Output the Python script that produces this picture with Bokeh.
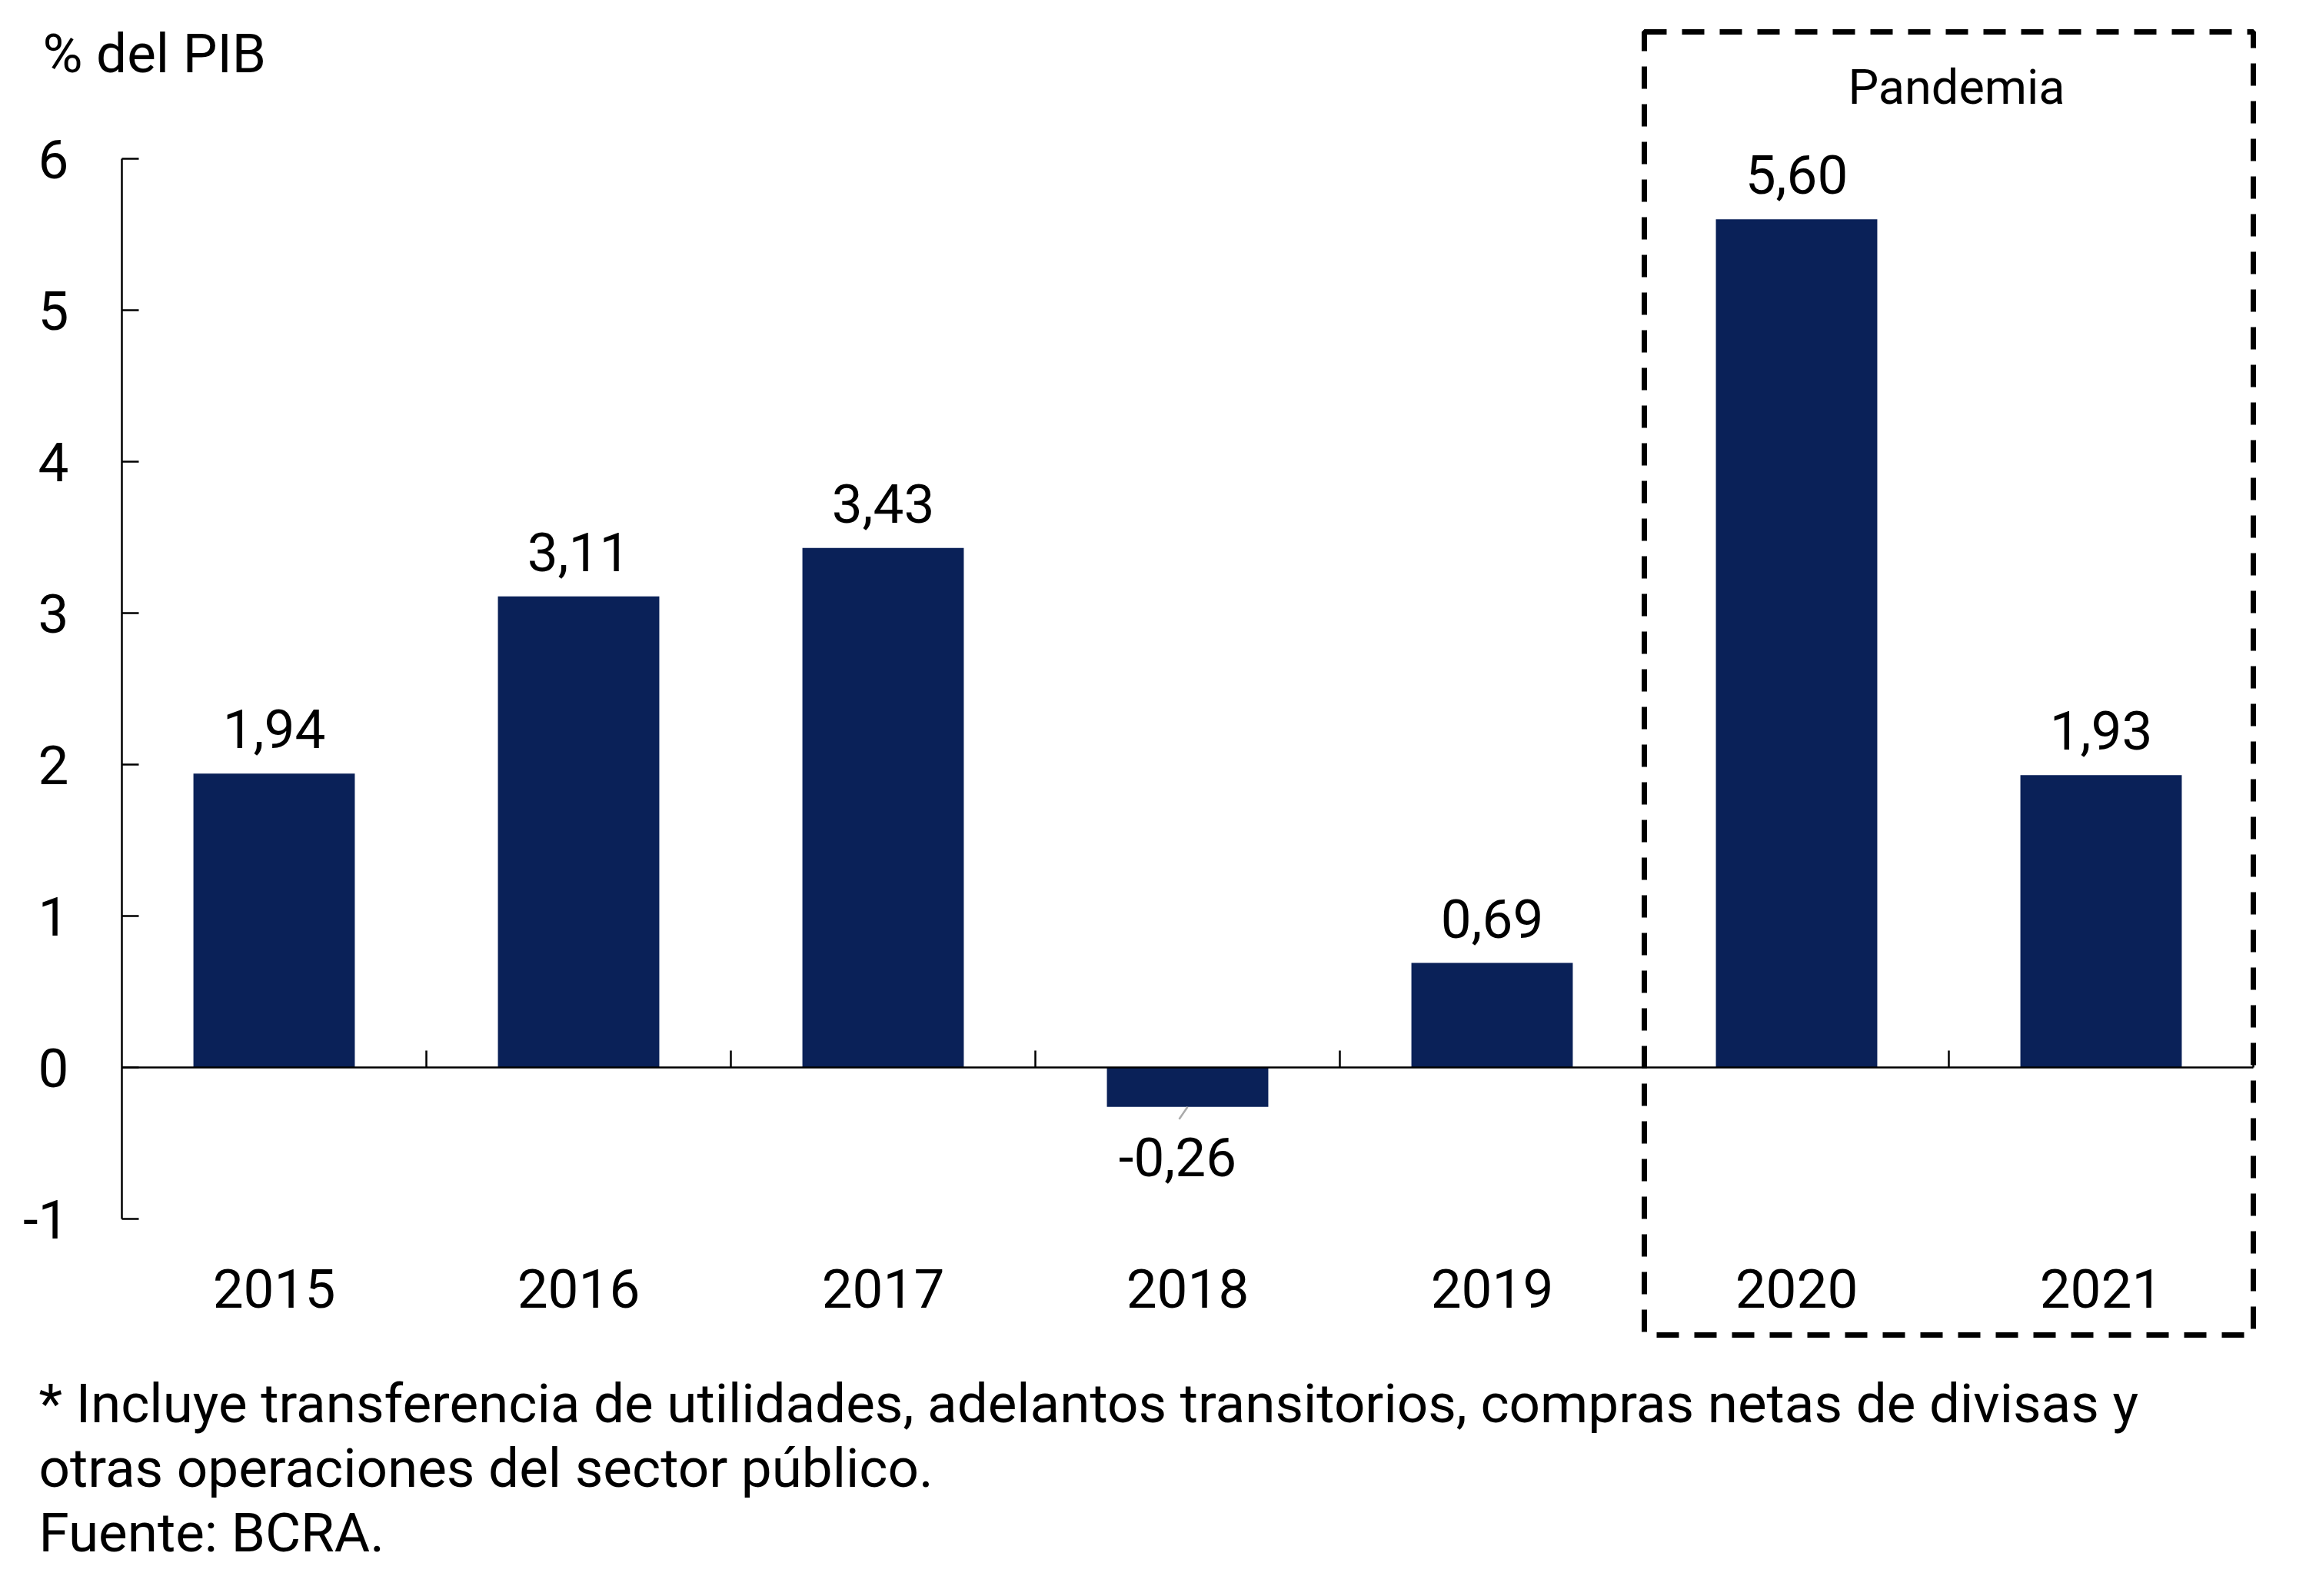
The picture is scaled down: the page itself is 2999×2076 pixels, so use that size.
from bokeh.plotting import figure
from bokeh.models import (LinearAxis, FixedTicker, Range1d, ColumnDataSource,
                          Label, BoxAnnotation)
from bokeh.core.properties import value
from bokeh.embed import file_html
from bokeh.resources import INLINE

# ---------------- data ----------------
years = ["2015", "2016", "2017", "2018", "2019", "2020", "2021"]
values = [1.94, 3.11, 3.43, -0.26, 0.69, 5.60, 1.93]
y_ticks = [-1, 0, 1, 2, 3, 4, 5, 6]
y_bounds = (-1, 6)
unit_label = "% del PIB"
highlight_label = "Pandemia"
highlight_years = ["2020", "2021"]
footnote_lines = [
    "* Incluye transferencia de utilidades, adelantos transitorios, compras netas de divisas y",
    "otras operaciones del sector público.",
    "Fuente: BCRA.",
]

# ---------------- layout (pixels) ----------------
FONT = "Roboto"
FS = "71px"
FS_SMALL = "63px"
W, H = 2983, 2060
OFF = 0
X0_REF, XU = 158, 396.0      # reference pixel of x=0, pixels per category
Y6_REF, YU = 206, 197.0      # reference pixel of y=6, pixels per unit
BAR_COLOR = "#0A2158"


def xd(ref_x):
    return (ref_x - X0_REF) / XU


def yd(ref_y):
    return 6 - (ref_y - Y6_REF) / YU


n = len(years)

p = figure(width=W, height=H,
           x_range=Range1d(xd(OFF), xd(OFF + W)),
           y_range=Range1d(yd(OFF + H), yd(OFF)),
           x_axis_type=None, y_axis_type=None, toolbar_location=None,
           output_backend="svg", min_border_left=0, min_border_right=0,
           min_border_top=0, min_border_bottom=0)
p.outline_line_color = None
p.background_fill_color = "white"
p.border_fill_color = "white"

# y axis (drawn at x = 0 inside the frame)
yaxis = LinearAxis(ticker=FixedTicker(ticks=y_ticks), bounds=y_bounds, fixed_location=0,
                   major_tick_in=22, major_tick_out=0, minor_tick_in=0, minor_tick_out=0,
                   axis_line_width=2.5, axis_line_color="black",
                   major_tick_line_width=2.5, major_tick_line_color="black",
                   major_label_standoff=69, major_label_text_font=FONT,
                   major_label_text_font_size=FS, major_label_text_color="black",
                   major_label_overrides={t: str(t) for t in y_ticks})
p.add_layout(yaxis, "left")

# bars
centers = [i + 0.5 for i in range(n)]
labels = [f"{v:.2f}".replace(".", ",") for v in values]
y_offsets = [-58 if v >= 0 else 65 for v in values]
x_offsets = [0 if v >= 0 else -13 for v in values]
src = ColumnDataSource(dict(x=centers, top=values, label=labels,
                            yoff=y_offsets, xoff=x_offsets, year=years))
p.vbar(x="x", top="top", bottom=0, width=0.53, source=src,
       fill_color=BAR_COLOR, line_color=None)

# zero line and category ticks
p.segment(x0=[0], y0=[0], x1=[n], y1=[0], line_color="black", line_width=2.5)
bounds = [i + 1 for i in range(n)]
p.segment(x0=bounds, y0=[0] * n, x1=bounds, y1=[22 / YU] * n,
          line_color="black", line_width=2.5)

# leader lines for negative values
neg = [(c, v) for c, v in zip(centers, values) if v < 0]
if neg:
    p.segment(x0=[c for c, v in neg], y0=[v for c, v in neg],
              x1=[c - 11 / XU for c, v in neg], y1=[v - 16 / YU for c, v in neg],
              line_color="#AAAAAA", line_width=2.5)

# value labels
p.text(x="x", y="top", text="label", x_offset="xoff", y_offset="yoff", source=src,
       text_font=value(FONT), text_font_size=FS, text_color="black",
       text_align="center", text_baseline="middle")

# year labels
p.text(x="x", y=yd(1675), text="year", source=src,
       text_font=value(FONT), text_font_size=FS, text_color="black",
       text_align="center", text_baseline="middle")

# highlight box
hi = [years.index(y) for y in highlight_years]
box_left, box_right = min(hi), max(hi) + 1
p.add_layout(BoxAnnotation(left=box_left, right=box_right, top=yd(41), bottom=yd(1736),
                           fill_alpha=0, line_color="black", line_alpha=1.0, line_width=7,
                           line_dash="29 20"))
p.add_layout(Label(x=(box_left + box_right) / 2, y=yd(113), x_offset=10, text=highlight_label,
                   text_font=FONT, text_font_size=FS_SMALL, text_color="black",
                   text_align="center", text_baseline="middle"))

# unit label
p.add_layout(Label(x=xd(55), y=yd(69), text=unit_label,
                   text_font=FONT, text_font_size=FS, text_color="black",
                   text_align="left", text_baseline="middle"))

# footnotes
for i, line in enumerate(footnote_lines):
    p.add_layout(Label(x=xd(50), y=yd(1825 + i * 84), text=line,
                       text_font=FONT, text_font_size=FS, text_color="black",
                       text_align="left", text_baseline="middle"))

open("out.html", "w").write(file_html(p, INLINE))
